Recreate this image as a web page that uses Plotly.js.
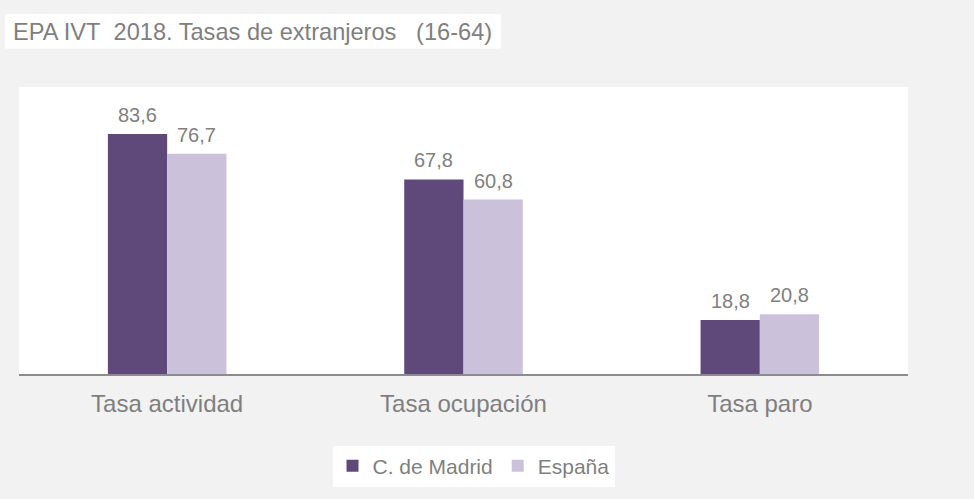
<!DOCTYPE html>
<html>
<head>
<meta charset="utf-8">
<script src="https://cdn.plot.ly/plotly-3.0.1.min.js"></script>
<style>html,body{margin:0;padding:0;background:#f2f2f2;}#chart{width:974px;height:499px;}</style>
</head>
<body>
<div id="chart"></div>
<script>
const categories = ["Tasa actividad", "Tasa ocupación", "Tasa paro"];
const madrid = [83.6, 67.8, 18.8];
const espana = [76.7, 60.8, 20.8];
const seriesNames = ["C. de Madrid", "España"];
const titleText = "EPA IVT\u00a0 2018. Tasas de extranjeros\u00a0\u00a0 (16-64)";

const W = 974, H = 499;
const M = {l: 19, r: 66, t: 87, b: 122};
const pw = W - M.l - M.r, ph = H - M.t - M.b;
const px = x => (x - M.l) / pw;
const py = y => (H - M.b - y) / ph;

const FONT = '"Liberation Sans", Arial, sans-serif';
const GRAY = '#7f7f7f';
const fmt = v => v.toFixed(1).replace('.', ',');

const traces = [
  {type: 'bar', name: seriesNames[0], x: categories, y: madrid, marker: {color: '#5f497a'}, hoverinfo: 'skip'},
  {type: 'bar', name: seriesNames[1], x: categories, y: espana, marker: {color: '#ccc1da'}, hoverinfo: 'skip'}
];

const bargap = 0.6;
const barW = (1 - bargap) / 2;
const annotations = [];
[madrid, espana].forEach((vals, s) => {
  vals.forEach((v, i) => {
    annotations.push({
      x: i + (s === 0 ? -barW / 2 : barW / 2), y: v, xref: 'x', yref: 'y',
      text: fmt(v), showarrow: false, yanchor: 'bottom', yshift: 6,
      font: {family: FONT, size: 20, color: GRAY}
    });
  });
});
annotations.push({
  x: px(11), y: py(31), xref: 'paper', yref: 'paper', xanchor: 'left', yanchor: 'middle',
  text: titleText, showarrow: false, font: {family: FONT, size: 23.6, color: GRAY}
});

const layout = {
  width: W, height: H,
  margin: M,
  paper_bgcolor: '#f2f2f2',
  plot_bgcolor: '#ffffff',
  barmode: 'group',
  bargap: bargap,
  bargroupgap: 0,
  showlegend: true,
  legend: {
    orientation: 'h', x: px(473.5), y: py(470), xanchor: 'center', yanchor: 'middle',
    bgcolor: '#ffffff', font: {family: FONT, size: 21, color: GRAY},
    itemwidth: 30, tracegroupgap: 0
  },
  xaxis: {
    type: 'category', showline: true, linecolor: '#8c8c8c', linewidth: 1.5,
    ticks: '', showgrid: false, zeroline: false,
    tickfont: {family: FONT, size: 24, color: GRAY}, ticklabelstandoff: 8
  },
  yaxis: {range: [0, 100], visible: false, showgrid: false, zeroline: false},
  shapes: [{
    type: 'rect', xref: 'paper', yref: 'paper', layer: 'below',
    x0: px(5), x1: px(501), y0: py(48), y1: py(13),
    fillcolor: '#ffffff', line: {width: 0}
  }],
  annotations: annotations
};

Plotly.newPlot('chart', traces, layout, {displayModeBar: false, staticPlot: true});
</script>
</body>
</html>
